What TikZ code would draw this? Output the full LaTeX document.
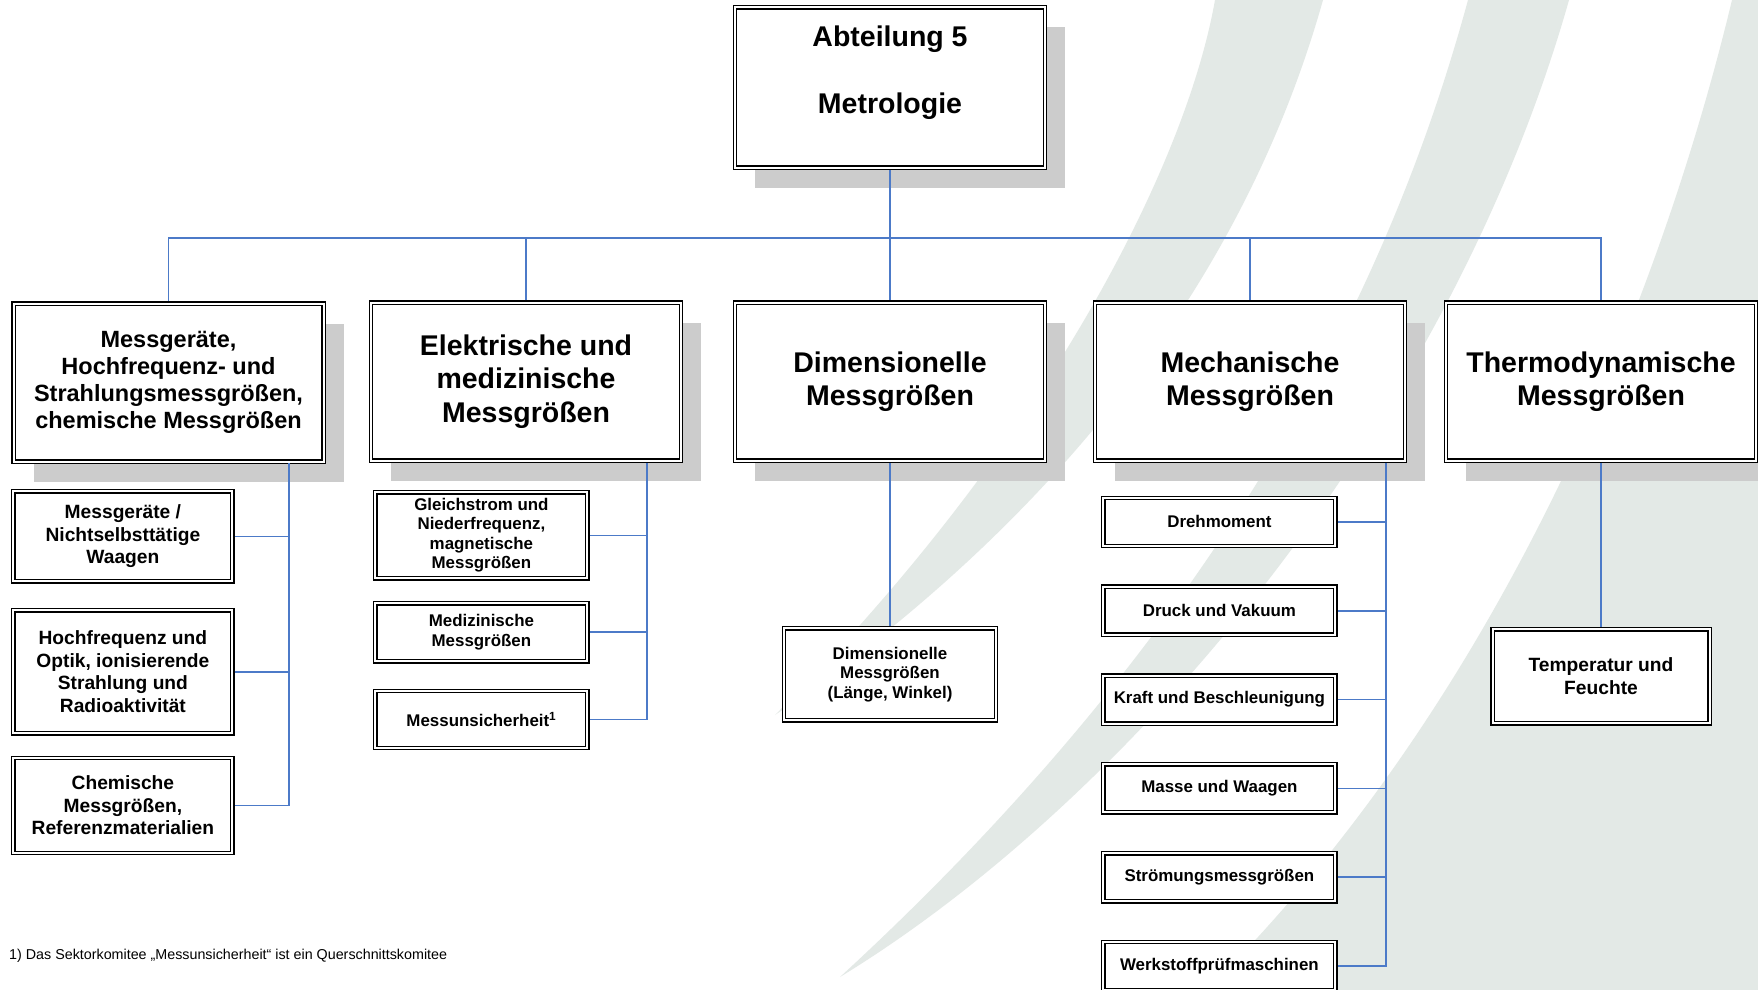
\documentclass[tikz,border=0pt]{standalone}
\usepackage{fontspec}
\setmainfont{Liberation Sans}
\usetikzlibrary{positioning,shadows}

\definecolor{swoosh}{RGB}{227,233,230}
\definecolor{shade}{RGB}{204,204,204}
\definecolor{wirecol}{RGB}{76,122,200}

\newcommand{\headfont}{\fontsize{28.5}{33.5}\selectfont\bfseries}
\newcommand{\groupfont}{\fontsize{23.5}{27}\selectfont\bfseries}
\newcommand{\leaffont}{\fontsize{19.2}{22.4}\selectfont\bfseries}
\newcommand{\itemfont}{\fontsize{16.9}{19.5}\selectfont\bfseries}
\newcommand{\notefont}{\fontsize{14.3}{17}\selectfont}

\begin{document}
\begin{tikzpicture}[x=1pt,y=-1pt]
    \tikzstyle{box} = [draw, shape=rectangle, double=white, double distance=2pt, line width=1.4pt, fill=white, align=center, inner sep=0pt, outer sep=2.4pt]
    \tikzstyle{head} = [box, minimum width=310pt, minimum height=158pt, general shadow={fill=shade, shadow xshift=20pt, shadow yshift=-20pt}]
    \tikzstyle{leaf} = [box, font=\leaffont, minimum width=219pt]
    \tikzstyle{item} = [box, font=\itemfont, minimum width=212pt]
    \tikzstyle{wire} = [draw=wirecol, line width=1.6pt]

    % page and background swooshes
    \path [use as bounding box, fill=white] (0,0) rectangle (1758,990);
    \fill [swoosh] (1215,0) .. controls (1185,170) and (1040,450) .. (775,715)
        .. controls (1000,560) and (1230,330) .. (1323,0) -- cycle;
    \fill [swoosh] (1468,0) .. controls (1400,250) and (1250,600) .. (840,977)
        .. controls (1130,800) and (1450,420) .. (1569,0) -- cycle;
    \fill [swoosh] (1732,0) .. controls (1660,300) and (1500,700) .. (1207,990)
        -- (1758,990) -- (1758,0) -- cycle;

    % department and sections
    \node [head, font=\headfont, minimum height=160pt] at (890,87.5) (top) {Abteilung 5\\[33.5pt]Metrologie\\\rule{0pt}{28pt}};
    \node [head, font=\groupfont] at (168.5,382.5) (mess) {Messgeräte,\\Hochfrequenz- und\\Strahlungsmessgrößen,\\chemische Messgrößen};
    \node [head, font=\headfont] at (526,381.5) (elek) {Elektrische und\\medizinische\\\rule{0pt}{24pt}Messgrößen};
    \node [head, font=\headfont] at (890,381.5) (dim) {Dimensionelle\\Messgrößen};
    \node [head, font=\headfont] at (1250,381.5) (mech) {Mechanische\\Messgrößen};
    \node [head, font=\headfont] at (1601,381.5) (thermo) {Thermodynamische\\Messgrößen};

    % sector committees
    \node [leaf, minimum height=90pt, anchor=north west] at (11,489) (mgw) {Messgeräte /\\Nichtselbsttätige\\Waagen};
    \node [leaf, minimum height=123pt, below=24pt of mgw] (hfo) {Hochfrequenz und\\Optik, ionisierende\\Strahlung und\\Radioaktivität};
    \node [leaf, minimum height=95pt, below=20pt of hfo] (chem) {Chemische\\Messgrößen,\\Referenzmaterialien};

    \node [item, minimum height=86pt, anchor=north west] at (373,490) (gleich) {Gleichstrom und\\Niederfrequenz,\\magnetische\\Messgrößen};
    \node [item, minimum height=58pt, below=20pt of gleich] (medi) {Medizinische\\Messgrößen};
    \node [item, minimum height=57pt, below=25pt of medi] (unsich) {Messunsicherheit\textsuperscript{1}};

    \node [item, minimum height=92pt, below=163pt of dim] (dimsub) {Dimensionelle\\Messgrößen\\(Länge, Winkel)};

    \node [item, minimum width=232pt, minimum height=48pt, anchor=north west] at (1101,495.5) (dreh) {Drehmoment};
    \node [item, minimum width=232pt, minimum height=48pt, below=36pt of dreh] (druck) {Druck und Vakuum};
    \node [item, minimum width=232pt, minimum height=48pt, below=36pt of druck] (kraft) {Kraft und Beschleunigung};
    \node [item, minimum width=232pt, minimum height=48pt, below=36pt of kraft] (masse) {Masse und Waagen};
    \node [item, minimum width=232pt, minimum height=48pt, below=36pt of masse] (stroem) {Strömungsmessgrößen};
    \node [item, minimum width=232pt, minimum height=48pt, below=36pt of stroem] (werk) {Werkstoffprüfmaschinen};

    \node [leaf, minimum width=217pt, minimum height=94pt, below=164pt of thermo] (temp) {Temperatur und\\Feuchte};

    \node [anchor=base west, inner sep=0pt, font=\notefont] at (9,959) (note) {1) Das Sektorkomitee „Messunsicherheit“ ist ein Querschnittskomitee};

    % connectors
    \coordinate (bus) at (890,238);
    \coordinate (messrail) at (289,463);
    \coordinate (elekrail) at (647,463);
    \coordinate (mechrail) at (1386,463);

    \draw [wire] (top) -- (bus);
    \draw [wire] (mess.north) |- (bus);
    \draw [wire] (elek.north) |- (bus);
    \draw [wire] (dim.north) -- (bus);
    \draw [wire] (mech.north) |- (bus);
    \draw [wire] (thermo.north) |- (bus);

    \draw [wire] (messrail) |- (chem.east);
    \draw [wire] (mgw.east) -- (mgw.east -| messrail);
    \draw [wire] (hfo.east) -- (hfo.east -| messrail);

    \draw [wire] (elekrail) |- (unsich.east);
    \draw [wire] (gleich.east) -- (gleich.east -| elekrail);
    \draw [wire] (medi.east) -- (medi.east -| elekrail);

    \draw [wire] (dim) -- (dimsub);

    \draw [wire] (mechrail) |- (werk.east);
    \draw [wire] (dreh.east) -- (dreh.east -| mechrail);
    \draw [wire] (druck.east) -- (druck.east -| mechrail);
    \draw [wire] (kraft.east) -- (kraft.east -| mechrail);
    \draw [wire] (masse.east) -- (masse.east -| mechrail);
    \draw [wire] (stroem.east) -- (stroem.east -| mechrail);

    \draw [wire] (thermo) -- (temp);
\end{tikzpicture}
\end{document}
